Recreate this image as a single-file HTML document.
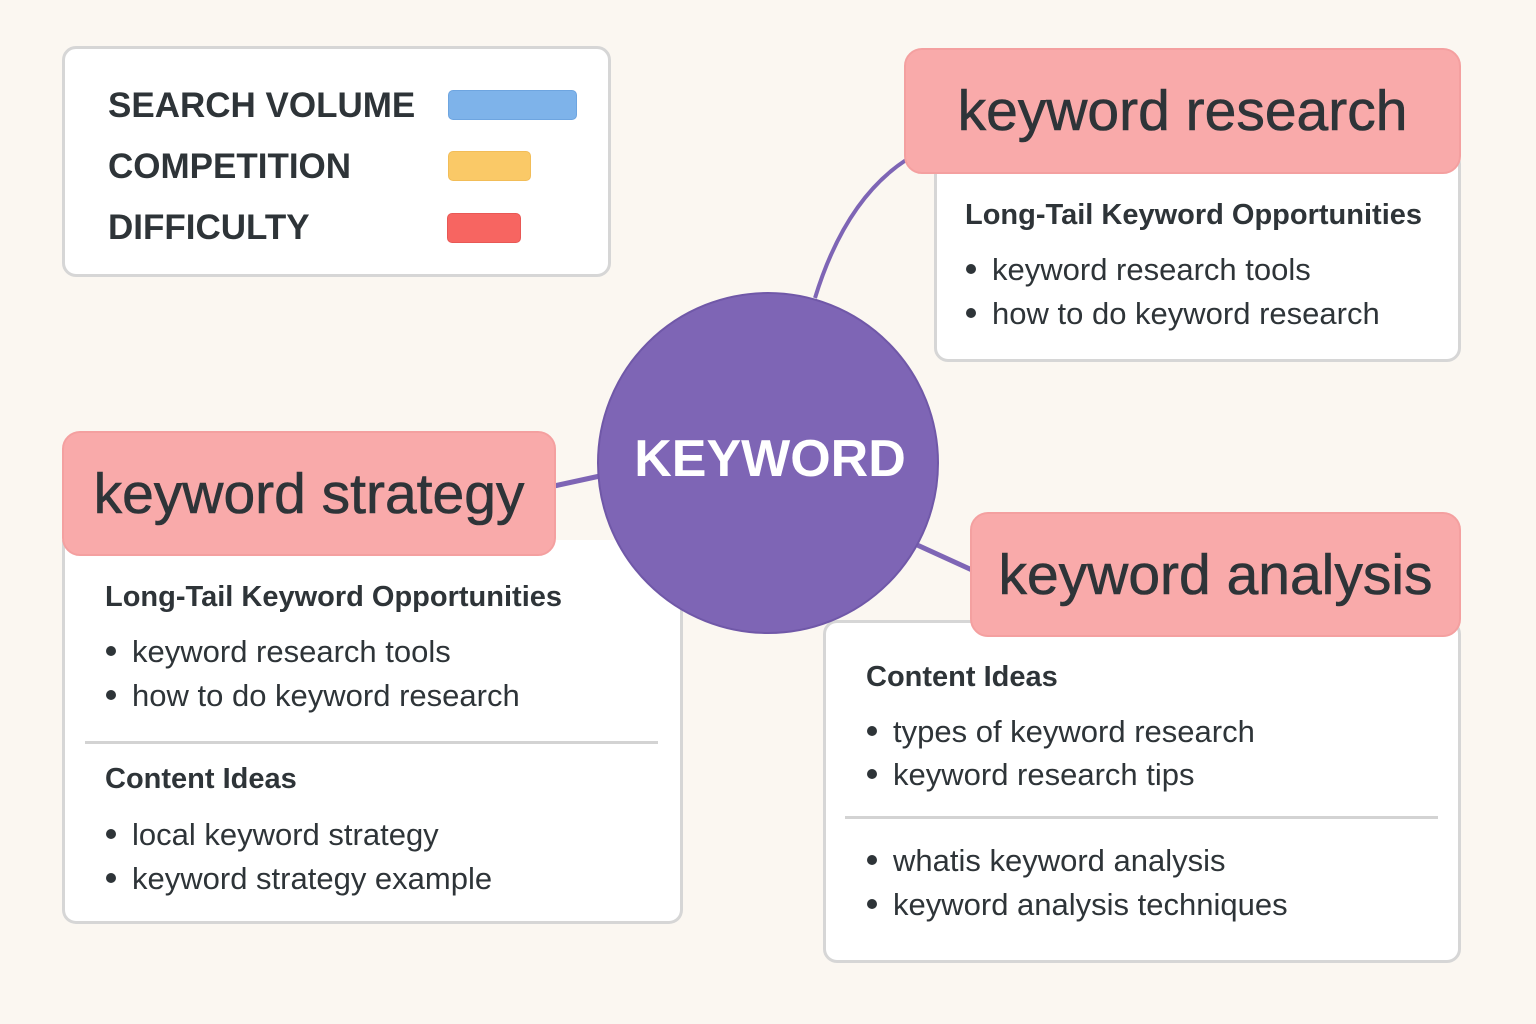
<!DOCTYPE html>
<html><head><meta charset="utf-8"><style>
*{margin:0;padding:0;box-sizing:border-box}
body{width:1536px;height:1024px;background:#fbf7f1;position:relative;overflow:hidden;font-family:"Liberation Sans",sans-serif;color:#2e3438}
.a{position:absolute}
.card{position:absolute;background:#fff;border:3px solid #d6d6d6;border-radius:14px}
.hdr{position:absolute;background:#f9aaaa;border-radius:18px;font-size:57px;display:flex;align-items:center;justify-content:center;color:#2e3438;border:2px solid #f4a0a0;-webkit-text-stroke:0.6px #2e3438}
.t{position:absolute;white-space:nowrap;line-height:1}
.h{font-weight:bold;font-size:29px}
.b{font-size:31px}
.b:before{content:"";display:inline-block;width:10px;height:10px;border-radius:50%;background:#2e3438;margin-right:16px;vertical-align:middle;position:relative;top:-3px}
.div{position:absolute;height:3px;background:#d3d3d3}
.leg{font-weight:bold;font-size:35px}
.bar{position:absolute;height:30px;border-radius:5px}
</style></head><body>
<svg class="a" style="left:0;top:0" width="1536" height="1024">
<path d="M815 298 Q845 200 906 160" stroke="#7e65b5" stroke-width="4" fill="none"/>
<path d="M554 486 L600 476" stroke="#7e65b5" stroke-width="5" fill="none"/>
<path d="M915 544 L972 570" stroke="#7e65b5" stroke-width="5" fill="none"/>
</svg>
<div class="card" style="left:62px;top:46px;width:549px;height:231px"></div>
<div class="t leg" style="left:108px;top:88px">SEARCH VOLUME</div>
<div class="t leg" style="left:108px;top:149px">COMPETITION</div>
<div class="t leg" style="left:108px;top:210px">DIFFICULTY</div>
<div class="bar" style="left:448px;top:90px;width:129px;background:#7eb3ea;border:1px solid #6ea5e0"></div>
<div class="bar" style="left:448px;top:151px;width:83px;background:#fac967;border:1px solid #f2bd58"></div>
<div class="bar" style="left:447px;top:213px;width:74px;background:#f76561;border:1px solid #e85855"></div>

<div class="card" style="left:934px;top:150px;width:527px;height:212px"></div>
<div class="hdr" style="left:904px;top:48px;width:557px;height:126px">keyword research</div>
<div class="t h" style="left:965px;top:201px">Long-Tail Keyword Opportunities</div>
<div class="t b" style="left:966px;top:254px">keyword research tools</div>
<div class="t b" style="left:966px;top:298px">how to do keyword research</div>

<div class="card" style="left:62px;top:540px;width:621px;height:384px;border-top:none;border-top-left-radius:0;border-top-right-radius:0"></div>
<div class="hdr" style="left:62px;top:431px;width:494px;height:125px">keyword strategy</div>
<div class="t h" style="left:105px;top:583px">Long-Tail Keyword Opportunities</div>
<div class="t b" style="left:106px;top:636px">keyword research tools</div>
<div class="t b" style="left:106px;top:680px">how to do keyword research</div>
<div class="div" style="left:85px;top:741px;width:573px"></div>
<div class="t h" style="left:105px;top:765px">Content Ideas</div>
<div class="t b" style="left:106px;top:819px">local keyword strategy</div>
<div class="t b" style="left:106px;top:863px">keyword strategy example</div>

<div class="card" style="left:823px;top:620px;width:638px;height:343px"></div>
<div class="hdr" style="left:970px;top:512px;width:491px;height:125px">keyword analysis</div>
<div class="t h" style="left:866px;top:663px">Content Ideas</div>
<div class="t b" style="left:867px;top:716px">types of keyword research</div>
<div class="t b" style="left:867px;top:759px">keyword research tips</div>
<div class="div" style="left:845px;top:816px;width:593px"></div>
<div class="t b" style="left:867px;top:845px">whatis keyword analysis</div>
<div class="t b" style="left:867px;top:889px">keyword analysis techniques</div>

<div class="a" style="left:597px;top:292px;width:342px;height:342px;border-radius:50%;background:#7e65b5;border:2px solid #7058a8"></div>
<div class="t" style="left:599px;top:433px;width:342px;text-align:center;color:#fff;font-weight:bold;font-size:52px">KEYWORD</div>
</body></html>
